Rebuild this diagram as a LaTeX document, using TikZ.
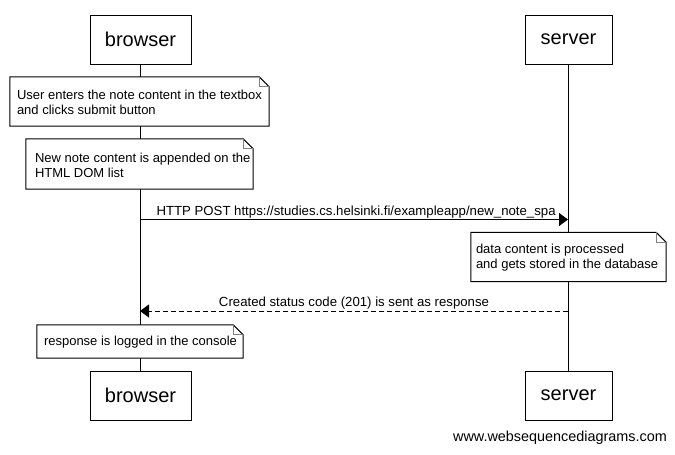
\documentclass[tikz,border=0pt]{standalone}
\usepackage{fontspec}
\setmainfont{Liberation Sans}
\usetikzlibrary{arrows.meta,calc}
\tikzset{
  actor/.style={draw, line width=1pt, fill=white, inner sep=0pt, font=\fontsize{20}{24}\selectfont},
  notebox/.style={inner sep=0pt},
  notetext/.style={inner sep=0pt, align=left, anchor=west, font=\fontsize{13}{15}\selectfont},
  lifeline/.style={line width=1pt},
  msg/.style={line width=1pt, -{Triangle[length=9pt,width=13pt]}},
  reply/.style={msg, dash pattern=on 5pt off 3pt},
  lbl/.style={font=\fontsize{13.2}{15}\selectfont, inner sep=1pt},
  fold/.style={line width=1pt, fill=white},
  foldline/.style={line width=0.8pt, gray}
}
\newcommand{\notefold}[1]{%
  \draw[fold] (#1.north west) -- ($(#1.north east)+(-10,0)$) -- ($(#1.north east)+(0,10)$) -- (#1.south east) -- (#1.south west) -- cycle;
  \draw[foldline] ($(#1.north east)+(-10,0)$) -- ($(#1.north east)+(-10,10)$) -- ($(#1.north east)+(0,10)$);
}
\begin{document}
\begin{tikzpicture}[x=1pt,y=-1pt]
\useasboundingbox[fill=white] (0,0) rectangle (675,455);
% actors
\node[actor, minimum width=101pt, minimum height=49pt] (bt) at (140.5,39.5) {browser};
\node[actor, minimum width=87pt, minimum height=49pt] (st) at (568.5,39.5) {server};
\node[actor, minimum width=101pt, minimum height=49pt] (bb) at (140.5,395.5) {browser};
\node[actor, minimum width=87pt, minimum height=49pt] (sb) at (568.5,395.5) {server};
% lifelines
\draw[lifeline] (bt.south) -- (bb.north);
\draw[lifeline] (st.south) -- (sb.north);
% notes
\node[notebox, minimum width=259pt, minimum height=49pt] (n1) at (139.5,101.5) {};
\notefold{n1}
\node[notetext] (t1) at ($(n1.west)+(7,1)$) {User enters the note content in the textbox\\and clicks submit button};
\node[notebox, minimum width=227pt, minimum height=50pt] (n2) at (139.5,164) {};
\notefold{n2}
\node[notetext] (t2) at ($(n2.west)+(9,1)$) {New note content is appended on the\\HTML DOM list};
\node[notebox, minimum width=195pt, minimum height=49pt] (n3) at (568.5,257) {};
\notefold{n3}
\node[notetext] (t3) at ($(n3.west)+(5,1)$) {data content is processed\\and gets stored in the database};
\node[notebox, minimum width=206pt, minimum height=33pt] (n4) at (140,341.5) {};
\notefold{n4}
\node[notetext] (t4) at ($(n4.west)+(7,1)$) {response is logged in the console};
% messages
\coordinate (b1) at (140,219.5);
\coordinate (s1) at (568,219.5);
\coordinate (b2) at (140,311);
\coordinate (s2) at (568,311);
\draw[msg] (b1) -- (s1) node[lbl, pos=0, anchor=south west, xshift=15pt] {HTTP POST https://studies.cs.helsinki.fi/exampleapp/new\_note\_spa};
\draw[reply] (s2) -- (b2) node[lbl, midway, above] {Created status code (201) is sent as response};
% watermark
\node[font=\fontsize{14.4}{16}\selectfont, inner sep=0pt] (wm) at (560,438) {www.websequencediagrams.com};
\end{tikzpicture}
\end{document}
